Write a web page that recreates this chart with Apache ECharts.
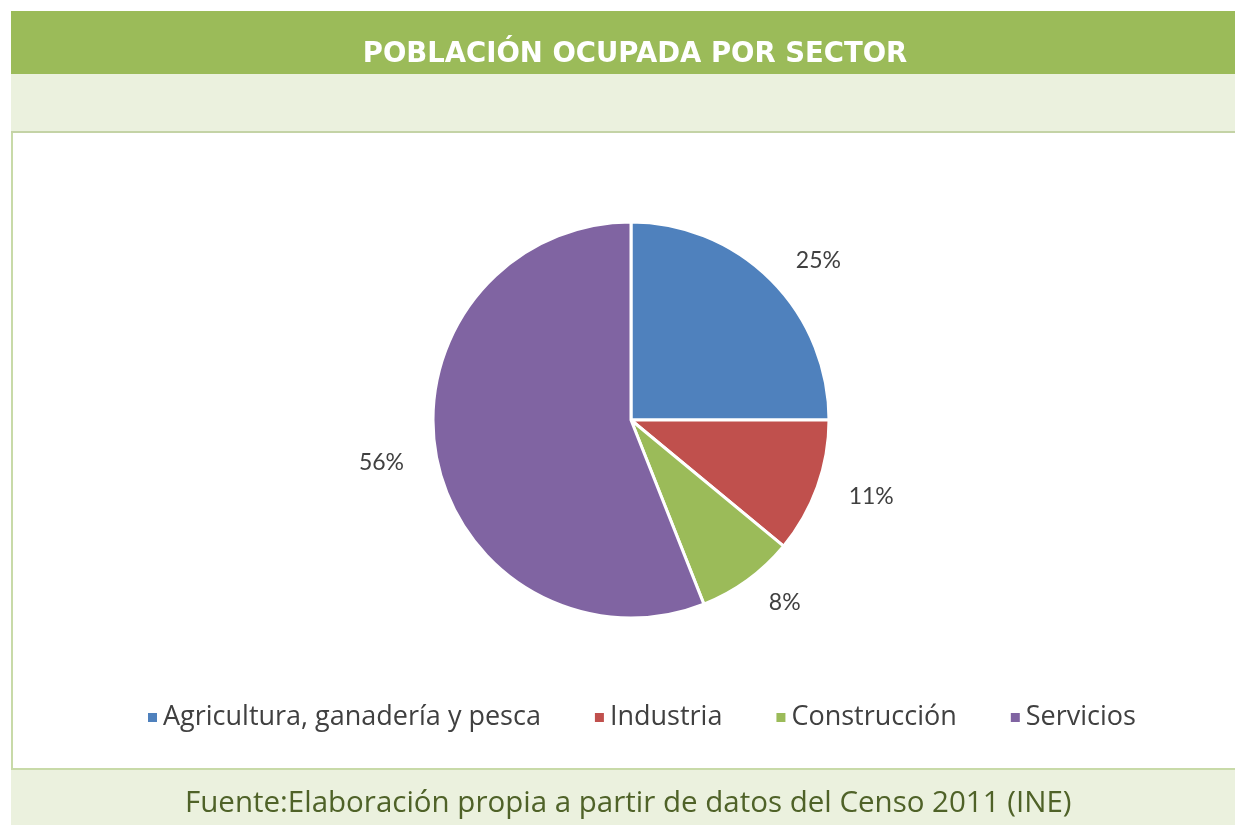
<!DOCTYPE html>
<html>
<head>
<meta charset="utf-8">
<script src="https://cdn.jsdelivr.net/npm/echarts@6/dist/echarts.min.js"></script>
<style>
  html, body { margin: 0; padding: 0; background: #fff; }
  #chart { width: 1235px; height: 825px; }
</style>
</head>
<body>
<div id="chart"></div>
<script>
const sectors = ["Agricultura, ganadería y pesca", "Industria", "Construcción", "Servicios"];
const shares = [25, 11, 8, 56];
const colors = ["#4F81BD", "#C0504D", "#9BBB59", "#8064A2"];

const chart = echarts.init(document.getElementById("chart"));
chart.setOption({
  animation: false,
  color: colors,
  title: {
    text: "POBLACIÓN OCUPADA POR SECTOR",
    left: 630,
    top: 36,
    textAlign: "center",
    textStyle: {
      color: "#fff",
      fontFamily: "DejaVu Sans",
      fontWeight: "bold",
      fontSize: 27.5,
    },
  },
  graphic: [
    // header bands
    { type: "rect", shape: { x: 11, y: 11, width: 1224, height: 63 }, style: { fill: "#9BBB59" }, z: -10 },
    { type: "rect", shape: { x: 11, y: 74, width: 1224, height: 58 }, style: { fill: "#EBF1DE" }, z: -10 },
    { type: "rect", shape: { x: 11, y: 131, width: 1224, height: 2 }, style: { fill: "#C4D3A6" }, z: -10 },
    // left border
    { type: "rect", shape: { x: 11, y: 133, width: 2, height: 692 }, style: { fill: "#C8DAA8" }, z: -10 },
    // footer
    { type: "rect", shape: { x: 11, y: 769, width: 1224, height: 56 }, style: { fill: "#EBF1DE" }, z: -10 },
    { type: "rect", shape: { x: 11, y: 768, width: 1224, height: 2 }, style: { fill: "#C8DAA8" }, z: -10 },
    {
      type: "text",
      left: 185,
      top: 789,
      style: {
        text: "Fuente:Elaboración propia a partir de datos del Censo 2011 (INE)",
        fill: "#4F6228",
        font: "29.5px 'Open Sans'",
      },
    },
  ],
  legend: {
    data: sectors,
    bottom: 89,
    left: 141,
    icon: "rect",
    itemWidth: 11,
    itemHeight: 11,
    itemGap: 52,
    textStyle: {
      color: "#404040",
      fontFamily: "Open Sans",
      fontSize: 27,
    },
  },
  series: [
    {
      type: "pie",
      center: [631, 420],
      radius: 198,
      startAngle: 90,
      clockwise: true,
      itemStyle: { borderColor: "#fff", borderWidth: 3 },
      label: {
        show: true,
        position: "outside",
        formatter: "{d}%",
        color: "#404040",
        fontFamily: "Lato",
        fontSize: 23,
      },
      labelLine: { show: false, length: 28, length2: 0 },
      emphasis: { disabled: true },
      data: sectors.map((name, i) => ({ name, value: shares[i] })),
    },
  ],
});
</script>
</body>
</html>
